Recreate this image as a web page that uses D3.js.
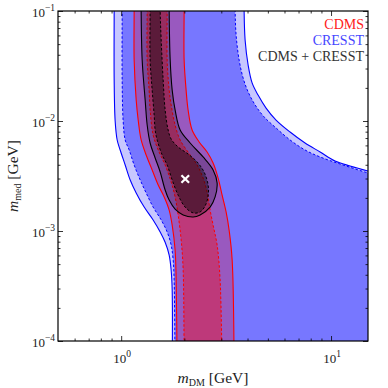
<!DOCTYPE html>
<html>
<head>
<meta charset="utf-8">
<script src="https://cdn.jsdelivr.net/npm/d3@7"></script>
<style>
  body { margin: 0; background: #fff; }
  svg { display: block; }
</style>
</head>
<body>
<div id="chart"></div>
<script>
// axis ticks
const xTicks = [1, 10];
const yTicks = [0.0001, 0.001, 0.01, 0.1];
const legendLabels = ["CDMS", "CRESST", "CDMS + CRESST"];
const bestFit = [2.02, 0.00297];

// contour boundaries, [m_DM (GeV), m_med (GeV)]
const cresstOuterLeft = [[0.926,0.2],[0.926,0.1],[0.926,0.0236],[0.936,0.01],[0.957,0.00672],[0.989,0.00545],[1.045,0.00398],[1.104,0.00291],[1.179,0.00222],[1.287,0.00165],[1.420,0.00126],[1.534,0.00098],[1.620,0.00079],[1.693,0.000605],[1.730,0.000442],[1.750,0.000291],[1.750,0.00005]];
const cresstOuterRight = [[3.853,0.2],[3.853,0.1],[3.895,0.0545],[4.026,0.0323],[4.206,0.0222],[4.491,0.0172],[4.903,0.0131],[5.47,0.0102],[6.38,0.00794],[7.52,0.00631],[8.87,0.00523],[10.45,0.00433],[12.32,0.0039],[15.0,0.00351],[17.1,0.0033]];
const cresstInnerLeft = [[1.011,0.2],[1.011,0.1],[1.011,0.0236],[1.022,0.01],[1.045,0.00672],[1.092,0.00545],[1.153,0.00398],[1.232,0.00291],[1.315,0.00222],[1.420,0.00165],[1.551,0.00126],[1.656,0.00098],[1.730,0.000746],[1.769,0.000545],[1.788,0.000359],[1.807,0.00005]];
const cresstInnerRight = [[3.492,0.2],[3.492,0.1],[3.529,0.0605],[3.648,0.0358],[3.811,0.0246],[4.026,0.0184],[4.347,0.014],[4.797,0.0109],[5.47,0.00864],[6.38,0.00672],[7.52,0.00545],[8.87,0.00471],[11.03,0.00407],[15.0,0.00337],[17.1,0.00316]];

const cdmsOuterLeft = [[1.153,0.2],[1.153,0.1],[1.153,0.0358],[1.179,0.0155],[1.205,0.0102],[1.245,0.00672],[1.315,0.00491],[1.405,0.00359],[1.501,0.00262],[1.603,0.00204],[1.693,0.00155],[1.750,0.00113],[1.807,0.000672],[1.828,0.000359],[1.848,0.00005]];
const cdmsOuterRight = [[1.995,0.2],[1.995,0.1],[1.995,0.0358],[2.039,0.0191],[2.084,0.0126],[2.178,0.00828],[2.352,0.00645],[2.567,0.00523],[2.742,0.00415],[2.897,0.00303],[3.027,0.00212],[3.162,0.00149],[3.268,0.00102],[3.379,0.000545],[3.454,0.00005]];
const cdmsInnerLeft = [[1.330,0.2],[1.330,0.1],[1.330,0.0358],[1.359,0.0191],[1.374,0.0126],[1.420,0.00746],[1.501,0.00545],[1.620,0.00398],[1.730,0.00279],[1.807,0.00204],[1.868,0.0014],[1.931,0.00083],[1.974,0.000442],[1.995,0.00005]];
const cdmsInnerRight = [[1.656,0.2],[1.656,0.1],[1.656,0.0358],[1.693,0.0191],[1.730,0.014],[1.807,0.0092],[1.910,0.00672],[2.131,0.00491],[2.301,0.00398],[2.457,0.00303],[2.567,0.00226],[2.653,0.00155],[2.742,0.00113],[2.865,0.000746],[2.961,0.000359],[3.027,0.00005]];

const comboOuter = [[1.245,0.2],[1.245,0.1],[1.259,0.0358],[1.301,0.0155],[1.330,0.0092],[1.374,0.00631],[1.452,0.00461],[1.534,0.00344],[1.620,0.00236],[1.693,0.00191],[1.807,0.00158],[1.974,0.0014],[2.203,0.00134],[2.378,0.0014],[2.653,0.00165],[2.803,0.00204],[2.865,0.00273],[2.742,0.00359],[2.457,0.00471],[2.131,0.00631],[1.910,0.00828],[1.807,0.0126],[1.750,0.0191],[1.712,0.0358],[1.693,0.1],[1.693,0.2]];
const comboInner = [[1.374,0.2],[1.374,0.1],[1.374,0.0358],[1.405,0.0191],[1.436,0.0113],[1.452,0.00828],[1.484,0.00672],[1.568,0.00491],[1.656,0.00398],[1.750,0.00291],[1.868,0.00212],[2.017,0.00165],[2.203,0.00146],[2.378,0.00149],[2.512,0.00169],[2.596,0.00208],[2.596,0.00262],[2.483,0.00344],[2.301,0.00424],[2.084,0.00501],[1.868,0.0058],[1.730,0.00686],[1.674,0.00828],[1.620,0.0126],[1.585,0.0236],[1.551,0.0545],[1.534,0.1],[1.534,0.2]];

const width = 388, height = 388;
const margin = { top: 11, right: 20, bottom: 47, left: 58 };
const serif = "'Liberation Serif', 'DejaVu Serif', serif";

const x = d3.scaleLog().domain([0.5, 15]).range([margin.left, width - margin.right]);
const y = d3.scaleLog().domain([1e-4, 1e-1]).range([height - margin.bottom, margin.top]);

const svg = d3.select("#chart").append("svg")
  .attr("width", width)
  .attr("height", height);

svg.append("clipPath").attr("id", "plot-clip")
  .append("rect")
  .attr("x", x.range()[0]).attr("y", y.range()[1])
  .attr("width", x.range()[1] - x.range()[0])
  .attr("height", y.range()[0] - y.range()[1]);

const line = d3.line()
  .x(d => x(d[0]))
  .y(d => y(d[1]))
  .curve(d3.curveCatmullRom.alpha(0.5));

// band between a left and right boundary (both listed top to bottom)
function bandPath(left, right, corner) {
  const back = right.slice().reverse();
  const mid = corner ? "L" + x(corner[0]) + "," + y(corner[1]) : "";
  return line(left) + mid + line(back).replace(/^M/, "L") + "Z";
}

const plot = svg.append("g").attr("clip-path", "url(#plot-clip)");

function drawRegion(opts) {
  plot.append("path").attr("d", opts.outerFill)
    .attr("fill", opts.color).attr("fill-opacity", opts.alphaOuter);
  plot.append("path").attr("d", opts.innerFill)
    .attr("fill", opts.color).attr("fill-opacity", opts.alphaInner);
  opts.innerLines.forEach(pts => {
    plot.append("path").attr("d", line(pts))
      .attr("fill", "none").attr("stroke", opts.stroke)
      .attr("stroke-width", 1).attr("stroke-dasharray", "2.5,2");
  });
  opts.outerLines.forEach(pts => {
    plot.append("path").attr("d", line(pts))
      .attr("fill", "none").attr("stroke", opts.stroke)
      .attr("stroke-width", 1.1);
  });
}

drawRegion({
  color: "#0000ff", stroke: "#0000ff", alphaOuter: 0.22, alphaInner: 0.4,
  outerFill: bandPath(cresstOuterLeft, cresstOuterRight, [20, 0.00005]),
  innerFill: bandPath(cresstInnerLeft, cresstInnerRight, [20, 0.00005]),
  outerLines: [cresstOuterLeft, cresstOuterRight],
  innerLines: [cresstInnerLeft, cresstInnerRight]
});

drawRegion({
  color: "#ff0000", stroke: "#ff0000", alphaOuter: 0.25, alphaInner: 0.36,
  outerFill: bandPath(cdmsOuterLeft, cdmsOuterRight),
  innerFill: bandPath(cdmsInnerLeft, cdmsInnerRight),
  outerLines: [cdmsOuterLeft, cdmsOuterRight],
  innerLines: [cdmsInnerLeft, cdmsInnerRight]
});

drawRegion({
  color: "#000000", stroke: "#000000", alphaOuter: 0.2, alphaInner: 0.4,
  outerFill: line(comboOuter) + "Z",
  innerFill: line(comboInner) + "Z",
  outerLines: [comboOuter],
  innerLines: [comboInner]
});

plot.append("path")
  .attr("d", d3.symbol().type(d3.symbolX).size(40)())
  .attr("transform", `translate(${x(bestFit[0])},${y(bestFit[1])})`)
  .attr("fill", "none")
  .attr("stroke", "#fff")
  .attr("stroke-width", 2.2);

// ticks pointing inward on all four sides
const xMinor = [0.6, 0.7, 0.8, 0.9, 2, 3, 4, 5, 6, 7, 8, 9];
const yMinor = [];
[1e-4, 1e-3, 1e-2].forEach(dec => {
  for (let k = 2; k <= 9; k++) yMinor.push(dec * k);
});

function addTicks(axisFn, scale, vals, size, transform) {
  const g = svg.append("g").attr("transform", transform)
    .call(axisFn(scale).tickValues(vals).tickSize(-size).tickSizeOuter(0).tickFormat(""));
  g.select(".domain").remove();
  g.selectAll("line").attr("stroke", "#000").attr("stroke-width", 0.8);
}

const [x0, x1] = x.range();
const [y1, y0] = y.range();
addTicks(d3.axisBottom, x, xTicks, 5, `translate(0,${y1})`);
addTicks(d3.axisBottom, x, xMinor, 2.5, `translate(0,${y1})`);
addTicks(d3.axisTop, x, xTicks, 5, `translate(0,${y0})`);
addTicks(d3.axisTop, x, xMinor, 2.5, `translate(0,${y0})`);
addTicks(d3.axisLeft, y, yTicks, 5, `translate(${x0},0)`);
addTicks(d3.axisLeft, y, yMinor, 2.5, `translate(${x0},0)`);
addTicks(d3.axisRight, y, yTicks, 5, `translate(${x1},0)`);
addTicks(d3.axisRight, y, yMinor, 2.5, `translate(${x1},0)`);

svg.append("rect")
  .attr("x", x0).attr("y", y0)
  .attr("width", x1 - x0).attr("height", y1 - y0)
  .attr("fill", "none").attr("stroke", "#000").attr("stroke-width", 1.2);

// tick labels as 10^n
function powerLabel(sel, v) {
  const exp = Math.round(Math.log10(v));
  sel.append("tspan").text("10");
  sel.append("tspan").attr("dy", -6).attr("font-size", 9.5)
    .text(exp < 0 ? "\u2212" + Math.abs(exp) : String(exp));
}

xTicks.forEach(v => {
  const t = svg.append("text")
    .attr("x", x(v) + 1).attr("y", y1 + 21.5)
    .attr("text-anchor", "middle")
    .attr("font-family", serif)
    .attr("font-size", 13).attr("fill", "#222");
  powerLabel(t, v);
});

yTicks.forEach(v => {
  const t = svg.append("text")
    .attr("x", x0 - 3).attr("y", y(v) + 6)
    .attr("text-anchor", "end")
    .attr("font-family", serif)
    .attr("font-size", 13).attr("fill", "#222");
  powerLabel(t, v);
});

// axis titles
function massLabel(sel, sub) {
  sel.append("tspan").attr("font-style", "italic").text("m");
  sel.append("tspan").attr("font-size", 10).attr("dy", 3).text(sub);
  sel.append("tspan").attr("dy", -3).text(" [GeV]");
}

const xl = svg.append("text")
  .attr("x", (x0 + x1) / 2).attr("y", 383)
  .attr("text-anchor", "middle")
  .attr("font-family", serif)
  .attr("font-size", 15.5).attr("fill", "#222");
massLabel(xl, "DM");

const yl = svg.append("text")
  .attr("transform", `translate(17.5,${(y0 + y1) / 2}) rotate(-90)`)
  .attr("text-anchor", "middle")
  .attr("font-family", serif)
  .attr("font-size", 15.5).attr("fill", "#222");
massLabel(yl, "med");

// legend
const legendColors = ["#ff1a1a", "#4646ff", "#333333"];
legendLabels.forEach((lab, i) => {
  svg.append("text")
    .attr("x", 364).attr("y", 29 + i * 16)
    .attr("text-anchor", "end")
    .attr("font-family", serif)
    .attr("font-size", 14)
    .attr("fill", legendColors[i])
    .text(lab);
});
</script>
</body>
</html>
